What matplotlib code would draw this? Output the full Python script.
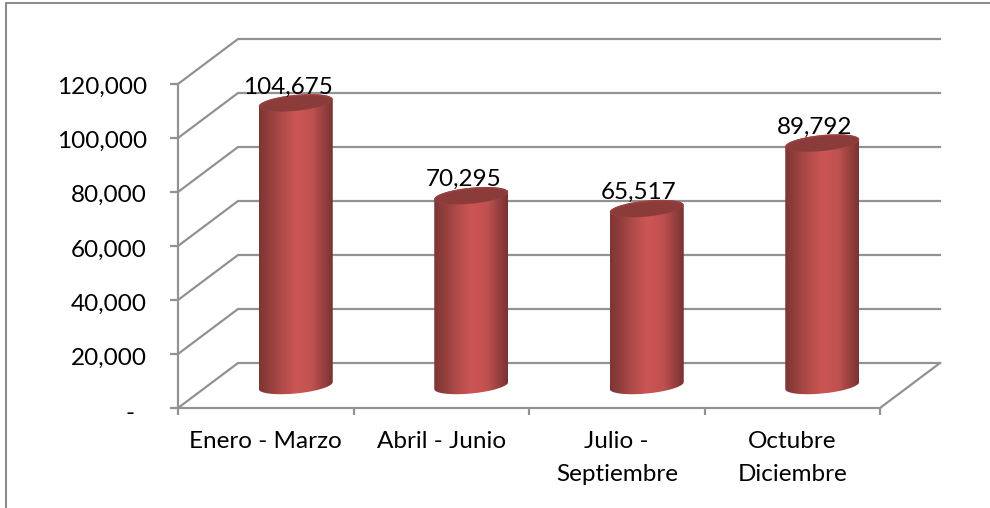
import numpy as np
import matplotlib
matplotlib.use("Agg")
import matplotlib.pyplot as plt
from matplotlib.patches import Polygon
from matplotlib.transforms import ScaledTranslation

categories = ["Enero - Marzo", "Abril - Junio", "Julio -\nSeptiembre", "Octubre\nDiciembre"]
values = [104675, 70295, 65517, 89792]
value_labels = ["104,675", "70,295", "65,517", "89,792"]
ticks = [0, 20000, 40000, 60000, 80000, 100000, 120000]
tick_labels = ["-  ", "20,000", "40,000", "60,000", "80,000", "100,000", "120,000"]
tick_label_shift = [3, 2, 2, 2, 1, 1, 1]

W, H = 990, 508
plt.rcParams["font.family"] = ["Lato", "DejaVu Sans"]
fig = plt.figure(figsize=(W / 100, H / 100), dpi=100)

# frame of the pasted picture
frame = fig.add_axes([0, 0, 1, 1]); frame.set_xlim(0, W); frame.set_ylim(H, 0); frame.axis("off")
frame.plot([5.5, 5.5, W], [H, 3, 3], color="#8c8c8c", lw=1.5)

L, R, B, T = 178, 880, 408, 84
ax = fig.add_axes([L / W, 1 - B / H, (R - L) / W, (B - T) / H])
ax.patch.set_alpha(0)
ax.set_xlim(0, 4); ax.set_ylim(0, 120000)
px = 4 / (R - L)          # category units per pixel
py = 120000 / (B - T)     # value units per pixel
DX, DY = 60 * px, 45 * py  # depth of the floor
GRID = "#929292"

for s in ["top", "right"]:
    ax.spines[s].set_visible(False)
for s in ["left", "bottom"]:
    ax.spines[s].set_color(GRID); ax.spines[s].set_linewidth(1.6)

ax.set_xticks(range(5)); ax.set_xticklabels([])
ax.set_xticks([i + .5 for i in range(4)], minor=True)
ax.set_xticklabels(categories, minor=True, fontsize=17.5, linespacing=1.7, color="black")
ax.tick_params(axis="x", which="minor", length=0, pad=16.5)
ax.tick_params(axis="x", which="major", length=5, width=1.6, color=GRID)
ax.set_yticks(ticks); ax.set_yticklabels(tick_labels, fontsize=17.5, color="black")
ax.tick_params(axis="y", length=5.8, width=1.6, color=GRID, pad=16.5)
for lab, s in zip(ax.get_yticklabels(), tick_label_shift):
    lab.set_transform(lab.get_transform() + ScaledTranslation(0, -s / 100, fig.dpi_scale_trans))

# walls
for t in ticks:
    ax.plot([0, DX, 4 + DX], [t, t + DY, t + DY], color=GRID, lw=1.6, clip_on=False, zorder=1,
            solid_joinstyle="miter")
ax.plot([4, 4 + DX], [0, DY], color=GRID, lw=1.6, clip_on=False, zorder=1)

# cylinders
rx, ry, tilt = 37, 8.0, 3.5
cmap = matplotlib.colors.LinearSegmentedColormap.from_list(
    "cyl", [(0, "#7c3533"), (.3, "#ae4a48"), (.5, "#cd5654"), (.72, "#c05150"), (1, "#773331")])
grad = np.linspace(0, 1, 256)[None, :]

def ell(cx, cy, sx=1.0, sy=1.0, a=0, b=2 * np.pi):
    t = np.linspace(a, b, 80)
    x = rx * sx * np.cos(t)
    y = ry * sy * np.sin(t) + tilt * x / rx
    return cx + x * px, cy + y * py

for i, v in enumerate(values):
    cx = i + .5 + DX / 2
    y0 = DY / 2
    y1 = v + DY / 2
    xb, yb = ell(cx, y0, a=np.pi, b=2 * np.pi)      # lower half of the base, left to right
    xt, yt = ell(cx, y1, a=0, b=np.pi)              # upper half of the top, right to left
    body = Polygon(np.c_[np.r_[xb, xt], np.r_[yb, yt]], closed=True, fc="none", ec="none",
                   transform=ax.transData)
    ax.add_patch(body)
    im = ax.imshow(grad, cmap=cmap, aspect="auto", zorder=3, clip_on=True,
                   extent=[cx - rx * px, cx + rx * px, y0 - 15 * py, y1 + 15 * py])
    im.set_clip_path(body)
    xl, yl = ell(cx, y1)
    ax.add_patch(Polygon(np.c_[xl, yl], closed=True, fc="#9c4240", ec="none", zorder=4))
    xl, yl = ell(cx, y1 - 0.6 * py, sx=.97, sy=.88)
    ax.add_patch(Polygon(np.c_[xl, yl], closed=True, fc="#8b3c3a", ec="none", zorder=5))
    ax.text(cx - 8 * px, y1 + 16 * py, value_labels[i], ha="center", va="center", fontsize=17.5,
            color="black", zorder=6, clip_on=False)

ax.set_xlim(0, 4); ax.set_ylim(0, 120000)
fig.savefig("out.png", dpi=100)
